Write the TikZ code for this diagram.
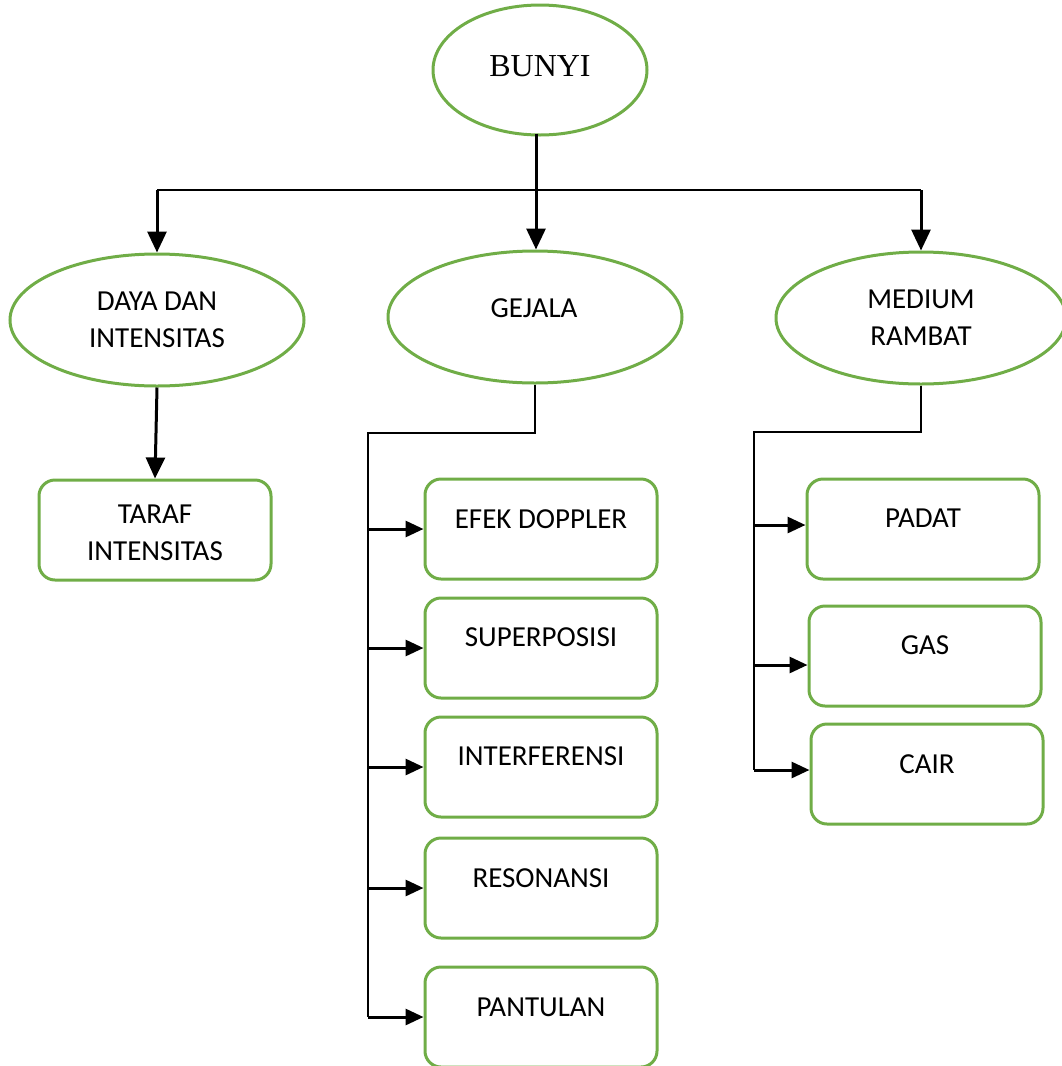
\documentclass[tikz,border=0pt]{standalone}
\usepackage{fontspec}
\setmainfont{Carlito}
\newfontfamily\serifx{Liberation Serif}
\usetikzlibrary{shapes.geometric,arrows.meta}
\definecolor{leaf}{RGB}{112,173,71}
\begin{document}
\begin{tikzpicture}[x=1pt,y=-1pt,
  oval/.style={ellipse,draw=leaf,line width=3pt,inner sep=0pt},
  box/.style={rectangle,rounded corners=16pt,draw=leaf,line width=3pt,minimum width=232pt,minimum height=100pt,inner sep=0pt},
  txt/.style={font=\fontsize{29}{37}\selectfont,align=center,inner sep=0pt},
  thinline/.style={line width=1.5pt},
  bigarrow/.style={line width=3pt,-{Triangle[length=21pt,width=19pt]}},
  smallarrow/.style={line width=3pt,-{Triangle[length=18pt,width=16pt]}}]
\useasboundingbox (0,0) rectangle (1062,1066);

% ellipses
\node[oval,minimum width=214pt,minimum height=130pt] (bunyi) at (540,70) {};
\node[oval,minimum width=294pt,minimum height=132pt] (daya) at (157,320) {};
\node[oval,minimum width=294pt,minimum height=132pt] (gejala) at (535,317) {};
\node[oval,minimum width=290pt,minimum height=132pt] (medium) at (921,318) {};

% boxes
\node[box] (taraf) at (155,530) {};
\node[box] (efek) at (541,529) {};
\node[box] (super) at (541,648) {};
\node[box] (inter) at (541,767) {};
\node[box] (reso) at (541,888) {};
\node[box] (pantul) at (541,1017) {};
\node[box] (padat) at (923,529) {};
\node[box] (gas) at (925,656) {};
\node[box] (cair) at (927,774) {};

% texts
\node[inner sep=0pt,font=\serifx\fontsize{32}{37}\selectfont] (tbunyi) at (540,66) {BUNYI};
\node[txt] (tdaya) at (157,320) {DAYA DAN\\INTENSITAS};
\node[txt] (tgejala) at (534,308) {GEJALA};
\node[txt] (tmedium) at (921,318) {MEDIUM\\RAMBAT};
\node[txt] (ttaraf) at (155,533) {TARAF\\INTENSITAS};
\node[txt] (tefek) at (541,519) {EFEK DOPPLER};
\node[txt] (tsuper) at (541,637) {SUPERPOSISI};
\node[txt] (tinter) at (541,756) {INTERFERENSI};
\node[txt] (treso) at (541,878) {RESONANSI};
\node[txt] (tpantul) at (541,1007) {PANTULAN};
\node[txt] (tpadat) at (923,518) {PADAT};
\node[txt] (tgas) at (925,645) {GAS};
\node[txt] (tcair) at (927,764) {CAIR};

% top connectors
\coordinate (hl) at (157,190);
\coordinate (hr) at (921,190);
\coordinate (bstart) at ([xshift=-4pt,yshift=3pt]bunyi.south);
\draw[thinline] (hl) -- (hr);
\draw[bigarrow] (bstart) -- (bstart |- gejala.north);
\draw[bigarrow] (hl) -- (daya.north);
\draw[bigarrow] (hr) -- (medium.north);
\draw[bigarrow] (daya.south) -- (taraf.north);

% gejala tree
\coordinate (gj) at (368,433);
\draw[thinline] (gejala.south) |- (gj) -- (gj |- pantul.west);
\draw[smallarrow] (gj |- efek.west) -- (efek.west);
\draw[smallarrow] (gj |- super.west) -- (super.west);
\draw[smallarrow] (gj |- inter.west) -- (inter.west);
\draw[smallarrow] (gj |- reso.west) -- (reso.west);
\draw[smallarrow] (gj |- pantul.west) -- (pantul.west);

% medium tree
\coordinate (md) at (754,432);
\coordinate (padin) at ([yshift=4pt]padat.west);
\coordinate (gasin) at ([yshift=-9pt]gas.west);
\coordinate (cairin) at ([yshift=4pt]cair.west);
\draw[thinline] (medium.south) |- (md) -- (md |- cairin);
\draw[smallarrow] (md |- padin) -- (padin);
\draw[smallarrow] (md |- gasin) -- (gasin);
\draw[smallarrow] (md |- cairin) -- (cairin);
\end{tikzpicture}
\end{document}
